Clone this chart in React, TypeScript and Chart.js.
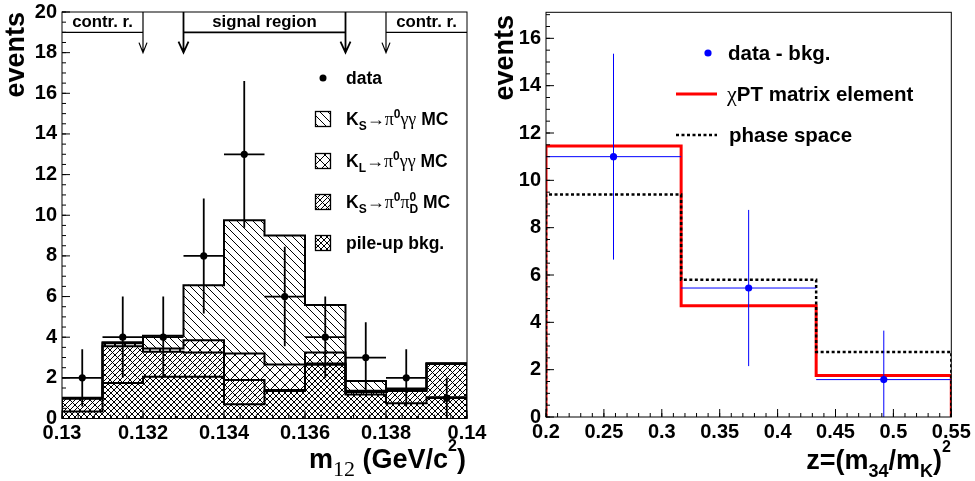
import { useEffect, useRef } from 'react';
import { Chart, registerables } from 'chart.js';

Chart.register(...registerables);

// ---- left pad: m12 spectrum, stacked MC + data ----
const massEdges = [0.13, 0.131, 0.132, 0.133, 0.134, 0.135, 0.136, 0.137, 0.138, 0.139, 0.14];
const massCenters = [0.1305, 0.1315, 0.1325, 0.1335, 0.1345, 0.1355, 0.1365, 0.1375, 0.1385, 0.1395];
const pileUpBkg = [0.35, 1.75, 2.05, 2.05, 0.7, 1.35, 2.65, 1.18, 0.75, 1.05];
const ksPi0Pi0D = [0.62, 1.8, 1.23, 1.2, 1.2, 0.05, 0.05, 0.12, 0.6, 1.63];
const klPi0GG = [0.03, 0.15, 0.17, 0.6, 1.3, 1.26, 0.55, 0.07, 0.05, 0.02];
const ksPi0GG = [0.02, 0.05, 0.62, 2.71, 6.55, 6.34, 2.33, 0.48, 0.08, 0.02];
const dataCounts = [2, 4, 4, 8, 13, 6, 4, 3, 2, 1];
const dataErrors = [1.41, 2, 2, 2.83, 3.61, 2.45, 2, 1.73, 1.41, 1];
const massTicks = [0.13, 0.132, 0.134, 0.136, 0.138, 0.14];
const eventTicksLeft = [0, 2, 4, 6, 8, 10, 12, 14, 16, 18, 20];
const controlCuts = [0.132, 0.138];
const signalCuts = [0.133, 0.137];
const regionTop = 20;
const regionLine = 19;
const arrowTip = 18;

// ---- right pad: z distribution ----
const zEdges = [0.2, 0.3167, 0.4333, 0.55];
const zCenters = [0.2583, 0.375, 0.4917];
const dataMinusBkg = [11.0, 5.45, 1.58];
const dataMinusBkgErr = [4.35, 3.3, 2.07];
const chiPTME = [11.45, 4.7, 1.75];
const phaseSpace = [9.4, 5.8, 2.75];
const zTicks = [0.2, 0.25, 0.3, 0.35, 0.4, 0.45, 0.5, 0.55];
const eventTicksRight = [0, 2, 4, 6, 8, 10, 12, 14, 16];

const SANS = '"Liberation Sans", Arial, Helvetica, sans-serif';
const SERIF = '"Liberation Serif", "Times New Roman", serif';
const B = (s: number) => `bold ${s}px ${SANS}`;
const S = (s: number) => `${s}px ${SERIF}`;

type Run = { t: string; font: string; dy?: number; overlay?: boolean };

function runText(ctx: CanvasRenderingContext2D, runs: Run[], x: number, y: number, draw: boolean) {
    let cx = x, lastX = x, lastW = 0;
    ctx.textAlign = 'left';
    ctx.textBaseline = 'alphabetic';
    for (const r of runs) {
        ctx.font = r.font;
        const w = ctx.measureText(r.t).width;
        const sx = r.overlay ? lastX : cx;
        if (draw) ctx.fillText(r.t, sx, y + (r.dy ?? 0));
        if (r.overlay) cx = lastX + Math.max(w, lastW);
        else { lastX = cx; lastW = w; cx += w; }
    }
    return cx - x;
}

function runTextRight(ctx: CanvasRenderingContext2D, runs: Run[], right: number, y: number) {
    const w = runText(ctx, runs, 0, y, false);
    runText(ctx, runs, right - w, y, true);
}

function hatch(size: number, backStep: number, fwdStep: number, lw = 1) {
    const c = document.createElement('canvas');
    c.width = size;
    c.height = size;
    const g = c.getContext('2d')!;
    g.fillStyle = '#fff';
    g.fillRect(0, 0, size, size);
    g.strokeStyle = '#000';
    g.lineWidth = lw;
    g.beginPath();
    if (backStep) for (let k = -size; k <= size; k += backStep) { g.moveTo(k, 0); g.lineTo(k + size, size); }
    if (fwdStep) for (let k = -size; k <= size; k += fwdStep) { g.moveTo(k, size); g.lineTo(k + size, 0); }
    g.stroke();
    return g.createPattern(c, 'repeat')!;
}

// histogram outline from bin edges, drawn as a polyline through the scales
function stepPoints(edges: number[], values: number[]) {
    const pts = [{ x: edges[0], y: 0 }];
    values.forEach((v, i) => {
        pts.push({ x: edges[i], y: v });
        pts.push({ x: edges[i + 1], y: v });
    });
    pts.push({ x: edges[edges.length - 1], y: 0 });
    return pts;
}

function errorBars(id: string, dsIndex: number, yId: string, centers: number[], values: number[], errors: number[], edges: number[], color: string, width: number) {
    return {
        id,
        beforeDatasetDraw(chart: any, args: any) {
            if (args.index !== dsIndex) return;
            const { ctx, chartArea: a } = chart;
            const x = chart.scales.x, y = chart.scales[yId];
            ctx.save();
            ctx.beginPath();
            ctx.rect(a.left, a.top, a.right - a.left, a.bottom - a.top);
            ctx.clip();
            ctx.strokeStyle = color;
            ctx.lineWidth = width;
            ctx.beginPath();
            centers.forEach((c, i) => {
                const px = x.getPixelForValue(c);
                const py = y.getPixelForValue(values[i]);
                ctx.moveTo(px, y.getPixelForValue(values[i] - errors[i]));
                ctx.lineTo(px, y.getPixelForValue(values[i] + errors[i]));
                ctx.moveTo(x.getPixelForValue(edges[i]), py);
                ctx.lineTo(x.getPixelForValue(edges[i + 1]), py);
            });
            ctx.stroke();
            ctx.restore();
        }
    };
}

// ROOT-like frame with inward ticks
function rootFrame(xMajor: number[], xMinor: number, yMajor: number[], yMinor: number) {
    return {
        id: 'rootFrame',
        afterDatasetsDraw(chart: any) {
            const { ctx, chartArea: a } = chart;
            const x = chart.scales.x, y = chart.scales.y;
            ctx.save();
            ctx.strokeStyle = '#000';
            ctx.lineWidth = 1;
            ctx.beginPath();
            const nx = Math.floor((x.max - x.min) / xMinor + 1e-6);
            for (let i = 0; i <= nx; i++) {
                const px = x.getPixelForValue(x.min + i * xMinor);
                ctx.moveTo(px, a.bottom); ctx.lineTo(px, a.bottom - 4);
            }
            xMajor.forEach(v => { const px = x.getPixelForValue(v); ctx.moveTo(px, a.bottom); ctx.lineTo(px, a.bottom - 8); });
            const ny = Math.floor((y.max - y.min) / yMinor + 1e-6);
            for (let i = 0; i <= ny; i++) {
                const py = y.getPixelForValue(y.min + i * yMinor);
                ctx.moveTo(a.left, py); ctx.lineTo(a.left + 4, py);
            }
            yMajor.forEach(v => { const py = y.getPixelForValue(v); ctx.moveTo(a.left, py); ctx.lineTo(a.left + 8, py); });
            ctx.stroke();
            ctx.strokeRect(a.left, a.top, a.right - a.left, a.bottom - a.top);
            ctx.restore();
        }
    };
}

function axisOpts(min: number, max: number, ticks: number[], size: number, horizontal: boolean, extra: any = {}) {
    return {
        type: 'linear',
        min,
        max,
        offset: false,
        grid: { display: false, drawTicks: false, offset: false },
        border: { display: false },
        afterBuildTicks: (s: any) => { s.ticks = ticks.map(v => ({ value: v })); },
        afterFit: (s: any) => {
            if (horizontal) { s.height = size; s.paddingLeft = 0; s.paddingRight = 0; }
            else { s.width = size; s.paddingTop = 0; s.paddingBottom = 0; }
        },
        ticks: {
            color: '#000',
            font: { family: SANS, size: 20, weight: 'bold' },
            padding: horizontal ? 3 : 5,
            autoSkip: false,
            maxRotation: 0,
            callback: (v: number) => String(v)
        },
        ...extra
    };
}

function leftConfig(): any {
    const fills = [hatch(6, 6, 6, 1), hatch(10, 10, 5), hatch(10, 10, 10), hatch(8, 8, 0)];
    const layers = [pileUpBkg, ksPi0Pi0D, klPi0GG, ksPi0GG];
    const cumulative = layers.map((_, k) =>
        massCenters.map((_, i) => layers.slice(0, k + 1).reduce((s, l) => s + l[i], 0)));

    const legendRows: { y: number; fill: any; runs: Run[] }[] = [
        { y: 78, fill: null, runs: [{ t: 'data', font: B(17.5) }] },
        { y: 119, fill: fills[3], runs: [
            { t: 'K', font: B(17.5) }, { t: 'S', font: B(12), dy: 5 }, { t: '\u2192', font: S(18) },
            { t: '\u03c0', font: S(18) }, { t: '0', font: B(12), dy: -7 }, { t: '\u03b3\u03b3', font: S(18) }, { t: ' MC', font: B(17.5) }] },
        { y: 161, fill: fills[2], runs: [
            { t: 'K', font: B(17.5) }, { t: 'L', font: B(12), dy: 5 }, { t: '\u2192', font: S(18) },
            { t: '\u03c0', font: S(18) }, { t: '0', font: B(12), dy: -7 }, { t: '\u03b3\u03b3', font: S(18) }, { t: ' MC', font: B(17.5) }] },
        { y: 202, fill: fills[1], runs: [
            { t: 'K', font: B(17.5) }, { t: 'S', font: B(12), dy: 5 }, { t: '\u2192', font: S(18) },
            { t: '\u03c0', font: S(18) }, { t: '0', font: B(12), dy: -7 }, { t: '\u03c0', font: S(18) },
            { t: '0', font: B(12), dy: -7 }, { t: 'D', font: B(12), dy: 5, overlay: true }, { t: ' MC', font: B(17.5) }] },
        { y: 243, fill: fills[0], runs: [{ t: 'pile-up bkg.', font: B(17.5) }] }
    ];

    const decor = {
        id: 'leftDecor',
        afterDraw(chart: any) {
            const { ctx } = chart;
            const x = chart.scales.x, y = chart.scales.y;
            const X = (v: number) => x.getPixelForValue(v);
            const Y = (v: number) => y.getPixelForValue(v);
            ctx.save();
            ctx.strokeStyle = '#000';
            ctx.fillStyle = '#000';

            const arrow = (xv: number, w: number, half: number, len: number) => {
                ctx.lineWidth = w;
                ctx.beginPath();
                ctx.moveTo(X(xv), Y(regionTop));
                ctx.lineTo(X(xv), Y(arrowTip));
                ctx.moveTo(X(xv) - half, Y(arrowTip) - len);
                ctx.lineTo(X(xv), Y(arrowTip));
                ctx.lineTo(X(xv) + half, Y(arrowTip) - len);
                ctx.stroke();
            };
            // control regions
            ctx.lineWidth = 1.2;
            ctx.beginPath();
            ctx.moveTo(X(massEdges[0]), Y(regionLine)); ctx.lineTo(X(controlCuts[0]), Y(regionLine));
            ctx.moveTo(X(controlCuts[1]), Y(regionLine)); ctx.lineTo(X(massEdges[massEdges.length - 1]), Y(regionLine));
            ctx.stroke();
            controlCuts.forEach(c => arrow(c, 1.2, 4, 10));
            // signal region
            ctx.lineWidth = 1.8;
            ctx.beginPath();
            ctx.moveTo(X(signalCuts[0]), Y(regionLine)); ctx.lineTo(X(signalCuts[1]), Y(regionLine));
            ctx.stroke();
            signalCuts.forEach(c => arrow(c, 1.8, 5, 11));

            ctx.font = B(16.8);
            ctx.textAlign = 'center';
            ctx.textBaseline = 'alphabetic';
            const base = Y(regionLine) - 5.5;
            ctx.fillText('contr. r.', X((massEdges[0] + controlCuts[0]) / 2), base);
            ctx.fillText('signal region', X((signalCuts[0] + signalCuts[1]) / 2), base);
            ctx.fillText('contr. r.', X((controlCuts[1] + massEdges[massEdges.length - 1]) / 2), base);

            // legend
            legendRows.forEach(r => {
                if (r.fill) {
                    ctx.fillStyle = r.fill;
                    ctx.fillRect(315.5, r.y - 7.5, 15, 15);
                    ctx.lineWidth = 1.3;
                    ctx.strokeRect(315.5, r.y - 7.5, 15, 15);
                } else {
                    ctx.beginPath();
                    ctx.arc(323, r.y, 3.5, 0, Math.PI * 2);
                    ctx.fill();
                }
                ctx.fillStyle = '#000';
                runText(ctx, r.runs, 346, r.y + 6, true);
            });

            // axis titles
            runTextRight(ctx, [
                { t: 'm', font: B(27) }, { t: '12', font: S(22), dy: 8 }, { t: ' (GeV/c', font: B(27) },
                { t: '2', font: B(16), dy: -17 }, { t: ')', font: B(27) }], 466, 468);
            ctx.translate(24, 12);
            ctx.rotate(-Math.PI / 2);
            ctx.font = B(27);
            ctx.textAlign = 'right';
            ctx.fillText('events', 0, 0);
            ctx.restore();
        }
    };

    return {
        type: 'bar',
        data: {
            datasets: [
                ...layers.map((l, k) => ({
                    type: 'bar',
                    data: massCenters.map((c, i) => ({ x: c, y: l[i] })),
                    backgroundColor: fills[k],
                    borderWidth: 0,
                    barPercentage: 1,
                    categoryPercentage: 1,
                    yAxisID: 'y',
                    order: 3
                })),
                ...cumulative.map(c => ({
                    type: 'line',
                    data: stepPoints(massEdges, c),
                    borderColor: '#000',
                    borderWidth: 2,
                    pointRadius: 0,
                    tension: 0,
                    yAxisID: 'y2',
                    order: 2
                })),
                {
                    type: 'scatter',
                    data: massCenters.map((c, i) => ({ x: c, y: dataCounts[i] })),
                    pointRadius: 3.6,
                    pointBackgroundColor: '#000',
                    pointBorderWidth: 0,
                    yAxisID: 'y2',
                    order: 1
                }
            ]
        },
        options: {
            animation: false,
            responsive: false,
            layout: { padding: { left: 0, top: 12, right: 20, bottom: 0 } },
            plugins: { legend: { display: false }, tooltip: { enabled: false } },
            scales: {
                x: axisOpts(massEdges[0], massEdges[massEdges.length - 1], massTicks, 62.5, true, { stacked: true }),
                y: axisOpts(0, 20, eventTicksLeft, 62, false, { stacked: true }),
                y2: { type: 'linear', min: 0, max: 20, display: false }
            }
        },
        plugins: [
            errorBars('leftErr', 8, 'y2', massCenters, dataCounts, dataErrors, massEdges, '#000', 1.8),
            rootFrame(massTicks, 0.0004, eventTicksLeft, 0.5),
            decor
        ]
    };
}

function rightConfig(): any {
    const decor = {
        id: 'rightDecor',
        afterDraw(chart: any) {
            const { ctx } = chart;
            ctx.save();
            ctx.fillStyle = '#0000ff';
            ctx.beginPath();
            ctx.arc(221, 53, 3.6, 0, Math.PI * 2);
            ctx.fill();

            ctx.strokeStyle = '#ff0000';
            ctx.lineWidth = 3;
            ctx.beginPath();
            ctx.moveTo(189, 94); ctx.lineTo(230, 94);
            ctx.stroke();

            ctx.strokeStyle = '#000';
            ctx.lineWidth = 2.5;
            ctx.setLineDash([3, 2.5]);
            ctx.beginPath();
            ctx.moveTo(189, 135); ctx.lineTo(230, 135);
            ctx.stroke();
            ctx.setLineDash([]);

            ctx.fillStyle = '#000';
            runText(ctx, [{ t: 'data - bkg.', font: B(20.5) }], 241, 60, true);
            runText(ctx, [{ t: '\u03c7', font: S(22) }, { t: 'PT matrix element', font: B(20.5) }], 240, 101, true);
            runText(ctx, [{ t: 'phase space', font: B(20.5) }], 242, 142, true);

            runTextRight(ctx, [
                { t: 'z=(m', font: B(27) }, { t: '34', font: B(18), dy: 8 }, { t: '/m', font: B(27) },
                { t: 'K', font: B(18), dy: 8 }, { t: ')', font: B(27) }, { t: '2', font: B(16), dy: -17 }], 464, 469);

            ctx.translate(26, 15);
            ctx.rotate(-Math.PI / 2);
            ctx.font = B(27);
            ctx.textAlign = 'right';
            ctx.textBaseline = 'alphabetic';
            ctx.fillText('events', 0, 0);
            ctx.restore();
        }
    };

    return {
        type: 'scatter',
        data: {
            datasets: [
                {
                    type: 'line',
                    data: stepPoints(zEdges, chiPTME),
                    borderColor: '#ff0000',
                    borderWidth: 3,
                    pointRadius: 0,
                    tension: 0,
                    order: 3
                },
                {
                    type: 'line',
                    data: stepPoints(zEdges, phaseSpace),
                    borderColor: '#000',
                    borderWidth: 2.5,
                    borderDash: [3, 2.5],
                    pointRadius: 0,
                    tension: 0,
                    order: 2
                },
                {
                    type: 'scatter',
                    data: zCenters.map((c, i) => ({ x: c, y: dataMinusBkg[i] })),
                    pointRadius: 3.6,
                    pointBackgroundColor: '#0000ff',
                    pointBorderWidth: 0,
                    order: 1
                }
            ]
        },
        options: {
            animation: false,
            responsive: false,
            layout: { padding: { left: 0, top: 12.3, right: 23.7, bottom: 0 } },
            plugins: { legend: { display: false }, tooltip: { enabled: false } },
            scales: {
                x: axisOpts(zEdges[0], zEdges[zEdges.length - 1], zTicks, 64, true),
                y: axisOpts(0, 17.1, eventTicksRight, 59, false)
            }
        },
        plugins: [
            errorBars('rightErr', 2, 'y', zCenters, dataMinusBkg, dataMinusBkgErr, zEdges, '#0000ff', 1),
            rootFrame(zTicks, 0.01, eventTicksRight, 0.5),
            decor
        ]
    };
}

export default function App() {
    const leftRef = useRef<HTMLCanvasElement>(null);
    const rightRef = useRef<HTMLCanvasElement>(null);

    useEffect(() => {
        if (!leftRef.current || !rightRef.current) return;
        document.body.style.margin = '0';
        const left = new Chart(leftRef.current, leftConfig());
        const right = new Chart(rightRef.current, rightConfig());
        return () => {
            left.destroy();
            right.destroy();
        };
    }, []);

    return (
        <div style={{ position: 'relative', width: 975, height: 481, background: '#fff' }}>
            <canvas ref={leftRef} width={487} height={481}
                style={{ position: 'absolute', left: 0, top: 0, width: 487, height: 481 }} />
            <canvas ref={rightRef} width={488} height={481}
                style={{ position: 'absolute', left: 487, top: 0, width: 488, height: 481 }} />
        </div>
    );
}
